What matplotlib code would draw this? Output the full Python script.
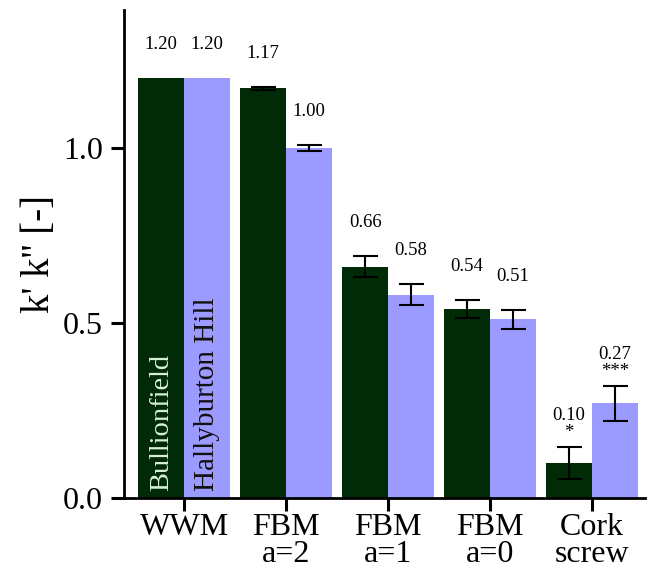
import matplotlib
matplotlib.use("Agg")
import matplotlib.pyplot as plt
import numpy as np

categories = ["WWM", "FBM\na=2", "FBM\na=1", "FBM\na=0", "Cork\nscrew"]
bullionfield = [1.20, 1.17, 0.66, 0.54, 0.10]
bullionfield_err = [0.0, 0.004, 0.03, 0.027, 0.046]
hallyburton = [1.20, 1.00, 0.58, 0.51, 0.27]
hallyburton_err = [0.0, 0.008, 0.03, 0.026, 0.05]
bullion_sig = ["", "", "", "", "*"]
hally_sig = ["", "", "", "", "***"]
series_names = ["Bullionfield", "Hallyburton Hill"]

plt.rcParams['font.family'] = ['Liberation Serif', 'DejaVu Serif']
plt.rcParams['mathtext.fontset'] = 'stix'

green = "#002b06"
blue = "#9b9bff"

fig = plt.figure(figsize=(6.48, 5.86), dpi=100)
ax = fig.add_axes([124/648, 1-498/586, (645-124)/648, (498-10)/586])

x = np.arange(len(categories))
w = 0.45
ax.bar(x - w/2, bullionfield, width=w, color=green, align='center')
ax.bar(x + w/2, hallyburton, width=w, color=blue, align='center')

for xs, vals, errs in [(x - w/2, bullionfield, bullionfield_err),
                       (x + w/2, hallyburton, hallyburton_err)]:
    idx = [i for i, e in enumerate(errs) if e > 0]
    ax.errorbar(xs[idx], np.array(vals)[idx], yerr=np.array(errs)[idx], fmt='none',
                ecolor='black', elinewidth=1.5, capsize=9, capthick=1.5)

for xs, vals, errs, sig in [(x - w/2, bullionfield, bullionfield_err, bullion_sig),
                            (x + w/2, hallyburton, hallyburton_err, hally_sig)]:
    for xi, v, e, s in zip(xs, vals, errs, sig):
        if s:
            txt = f"{v:.2f}\n{s}"
            off = 4
        else:
            txt = f"{v:.2f}"
            off = 18
        ax.annotate(txt, xy=(xi, v + e), xytext=(0, off), textcoords='offset points',
                    ha='center', va='bottom', fontsize=13.5, linespacing=1.0)

ax.text(-w/2, 0.02, series_names[0], rotation=90, ha='center', va='bottom',
        fontsize=20.5, color='#d8f0d8')
ax.text(w/2, 0.02, series_names[1], rotation=90, ha='center', va='bottom',
        fontsize=21, color='#111111')

ax.set_xlim(-0.59, 4.52)
ax.set_ylim(0, 1.394)
ax.set_xticks(x)
ax.set_xticklabels(categories, fontsize=23, linespacing=0.95)
ax.set_yticks([0.0, 0.5, 1.0])
ax.set_yticklabels(["0.0", "0.5", "1.0"], fontsize=23)
ax.set_ylabel("k' k'' [-]", fontsize=28, labelpad=4)

for s in ['top', 'right']:
    ax.spines[s].set_visible(False)
for s in ['left', 'bottom']:
    ax.spines[s].set_linewidth(2)
ax.tick_params(axis='both', direction='out', length=9.5, width=2.2)
ax.tick_params(axis='x', pad=1)
ax.tick_params(axis='y', pad=5.5)

fig.savefig("out.png", dpi=100)
